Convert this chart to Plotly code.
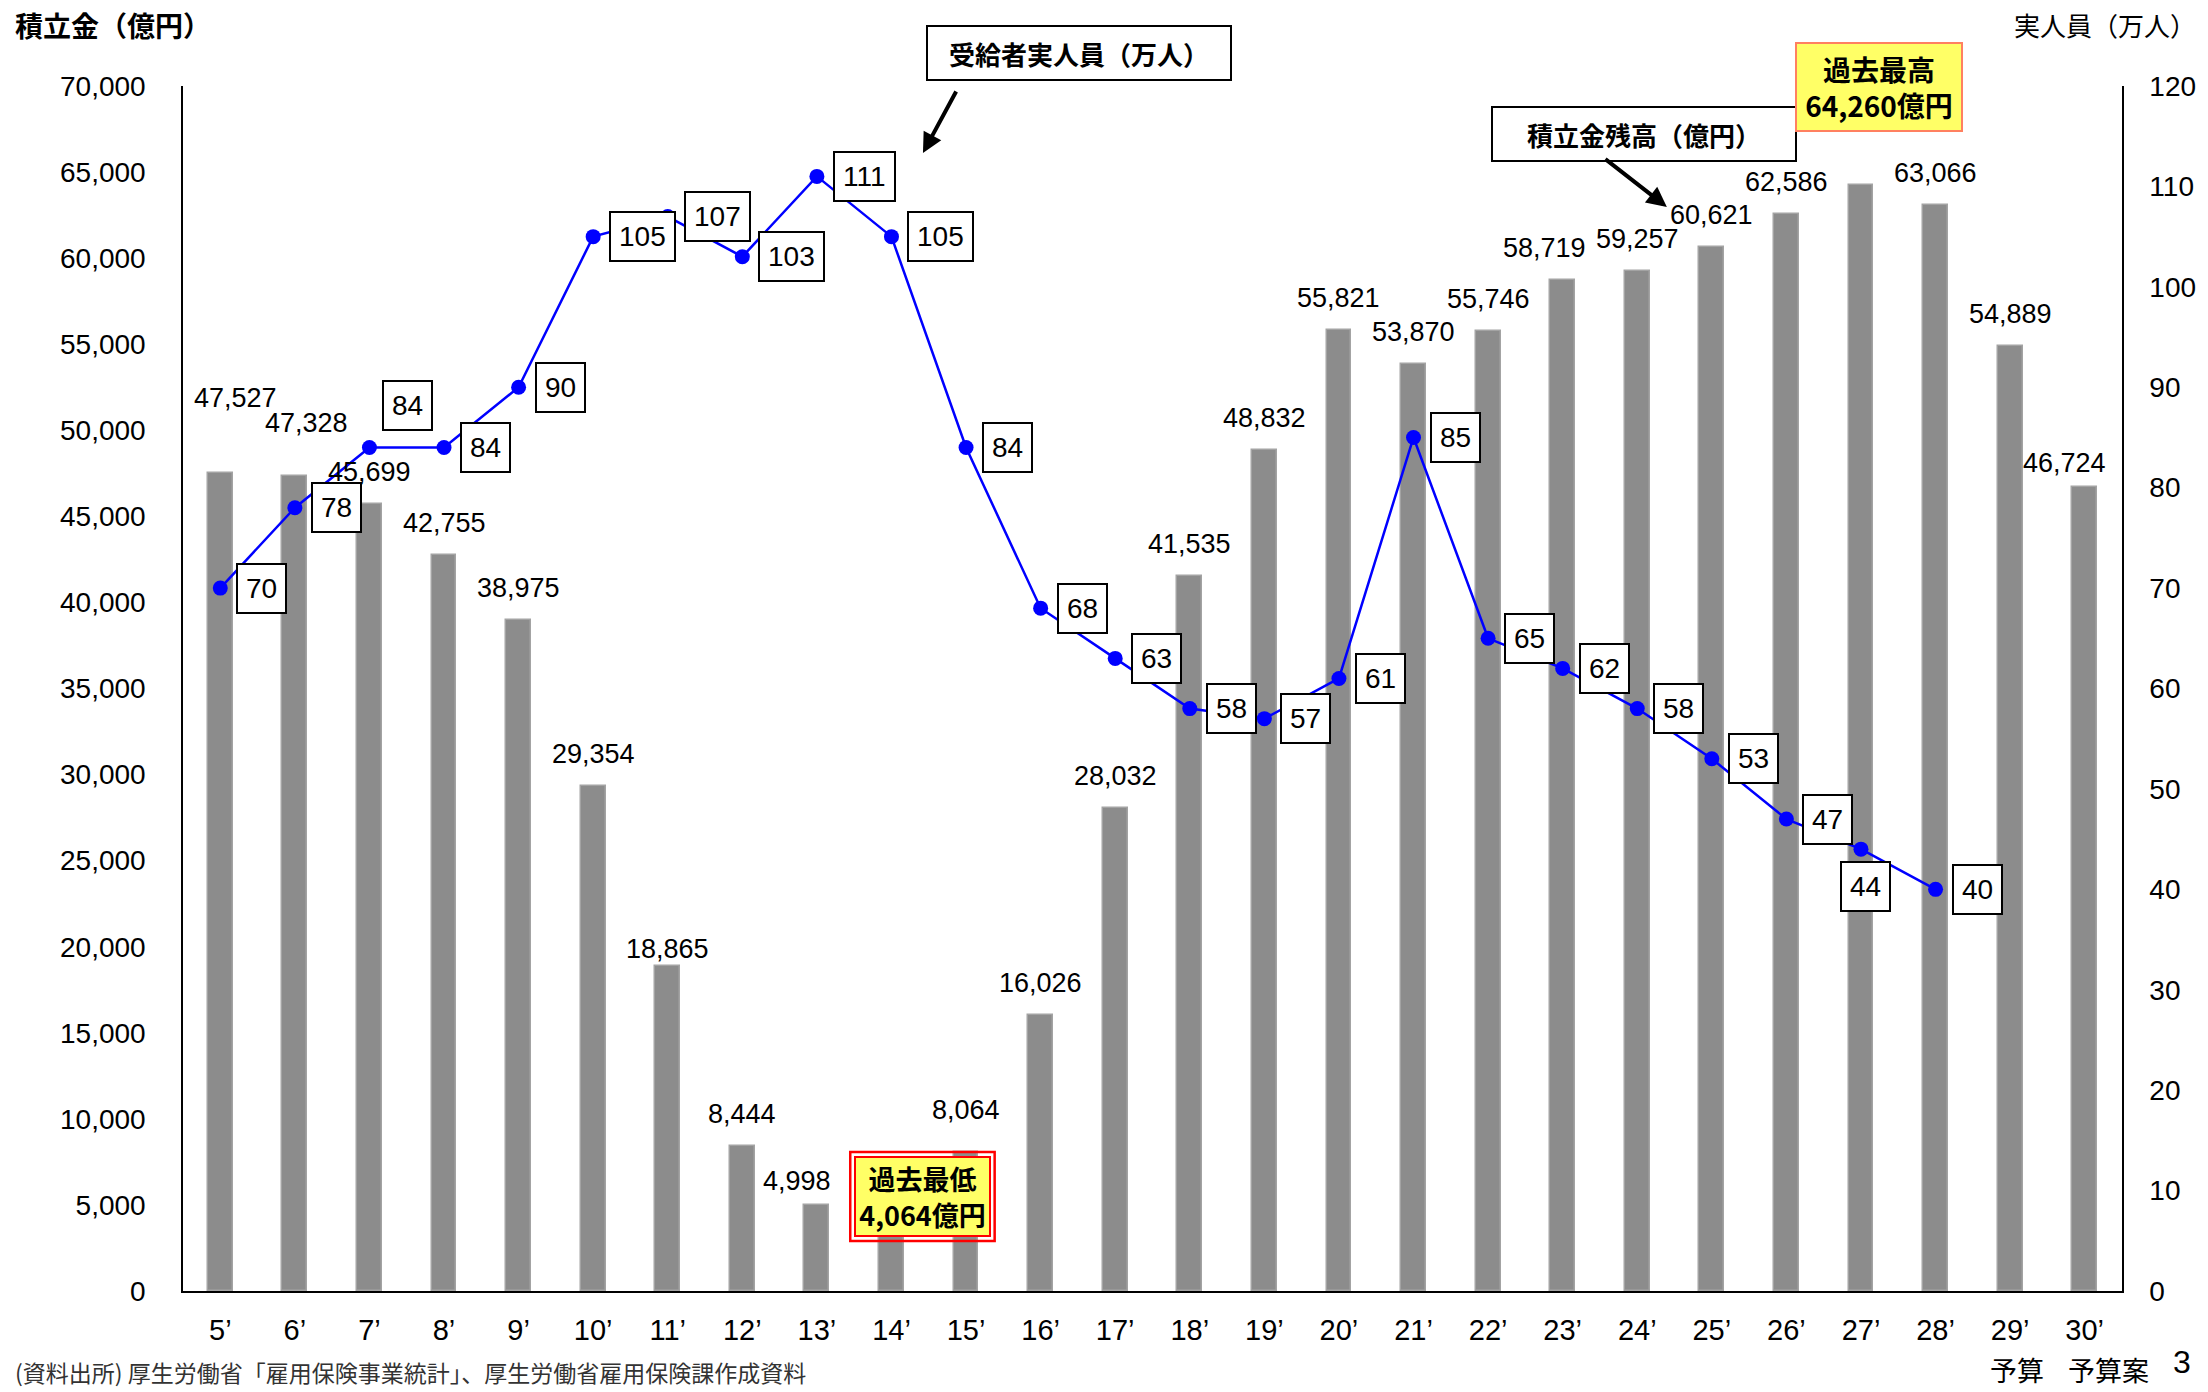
import plotly.graph_objects as go

# ---------------- data ----------------
years = ['5’', '6’', '7’', '8’', '9’', '10’', '11’', '12’', '13’', '14’', '15’', '16’', '17’',
         '18’', '19’', '20’', '21’', '22’', '23’', '24’', '25’', '26’', '27’', '28’', '29’', '30’']
fund_balance = [47527, 47328, 45699, 42755, 38975, 29354, 18865, 8444, 4998, 4064, 8064, 16026, 28032,
                41535, 48832, 55821, 53870, 55746, 58719, 59257, 60621, 62586, 64260, 63066, 54889, 46724]
recipients = [70, 78, 84, 84, 90, 105, 107, 103, 111, 105, 84, 68, 63, 58, 57, 61, 85, 65, 62, 58,
              53, 47, 44, 40]
recipient_years = years[:len(recipients)]

left_title = '積立金（億円）'
right_title = '実人員（万人）'
line_callout = '受給者実人員（万人）'
bar_callout = '積立金残高（億円）'
source_note = '(資料出所) 厚生労働省「雇用保険事業統計」、厚生労働省雇用保険課作成資料'
budget_notes = {'29’': '予算', '30’': '予算案'}
page_no = '3'

# ---------------- style ----------------
NUM_FONT = 'Liberation Sans, Arial, sans-serif'
JP_FONT = 'Noto Sans CJK JP, sans-serif'

W, H = 2208, 1392
ML, MR, MT, MB = 183, 78, 86, 101
PW, PH = W - ML - MR, H - MT - MB


def px_x(px):
    return (px - ML) / PW


def px_y(py):
    return (H - MB - py) / PH


fig = go.Figure()
fig.add_trace(go.Bar(
    x=years, y=fund_balance, width=0.333,
    marker=dict(color='#8c8c8c', line=dict(color='#a3a3a3', width=1.5)),
    yaxis='y', hoverinfo='skip', showlegend=False))
fig.add_trace(go.Scatter(
    x=recipient_years, y=recipients, yaxis='y2', mode='lines+markers',
    line=dict(color='#0000ff', width=2.5), marker=dict(color='#0000ff', size=15),
    hoverinfo='skip', showlegend=False))

annotations = []

# bar value labels (min and max are shown in callout boxes instead)
i_min = fund_balance.index(min(fund_balance))
i_max = fund_balance.index(max(fund_balance))
bar_label_offsets = {'5’': (15, 75), '6’': (12, 53), '11’': (0, 17), '13’': (-20, 24),
                     '15’': (0, 42), '23’': (-18, 32), '30’': (-20, 24)}
for i, (yr, v) in enumerate(zip(years, fund_balance)):
    if i in (i_min, i_max):
        continue
    dx, dy = bar_label_offsets.get(yr, (0, 32))
    annotations.append(dict(x=yr, y=v, xref='x', yref='y', text=f'{v:,}', showarrow=False,
                            xanchor='center', yanchor='middle', xshift=dx, yshift=dy,
                            font=dict(family=NUM_FONT, size=27, color='black')))

# boxed recipient labels
line_label_offsets = {'7’': ('left', 13, 42), '27’': ('center', 5, -37)}
for yr, v in zip(recipient_years, recipients):
    anchor, dx, dy = line_label_offsets.get(yr, ('left', 16, 0))
    annotations.append(dict(x=yr, y=v, xref='x', yref='y2', text=str(v), showarrow=False,
                            xanchor=anchor, yanchor='middle', xshift=dx, yshift=dy,
                            bgcolor='white', bordercolor='black', borderwidth=2, borderpad=8,
                            font=dict(family=NUM_FONT, size=28, color='black')))

# callout boxes
annotations.append(dict(x=px_x(1083), y=px_y(53), xref='paper', yref='paper',
                        text=f'<b>{line_callout}</b>', showarrow=False, xanchor='center', yanchor='middle',
                        width=300, height=50, borderpad=1, bgcolor='white', bordercolor='black',
                        borderwidth=2, font=dict(family=JP_FONT, size=26, color='black')))
annotations.append(dict(x=px_x(926), y=px_y(153), xref='paper', yref='paper', text='',
                        showarrow=True, ax=34, ay=-63, axref='pixel', ayref='pixel',
                        arrowhead=2, arrowsize=1, arrowwidth=4, arrowcolor='black'))

annotations.append(dict(x=px_x(1650), y=px_y(134), xref='paper', yref='paper',
                        text=f'<b>{bar_callout}</b>', showarrow=False, xanchor='center', yanchor='middle',
                        width=300, height=50, borderpad=1, bgcolor='white', bordercolor='black',
                        borderwidth=2, font=dict(family=JP_FONT, size=26, color='black')))
annotations.append(dict(x=px_x(1673), y=px_y(207), xref='paper', yref='paper', text='',
                        showarrow=True, ax=-63, ay=-49, axref='pixel', ayref='pixel',
                        arrowhead=2, arrowsize=1, arrowwidth=4, arrowcolor='black'))

max_text = f'<b>過去最高<br>{fund_balance[i_max]:,}億円</b>'
annotations.append(dict(x=px_x(1886), y=px_y(87), xref='paper', yref='paper', text=max_text,
                        showarrow=False, xanchor='center', yanchor='middle', width=162, height=84,
                        borderpad=1, bgcolor='#ffff66', bordercolor='#ff8060', borderwidth=2,
                        font=dict(family=JP_FONT, size=28, color='black')))

min_text = f'<b>過去最低<br>{fund_balance[i_min]:,}億円</b>'
annotations.append(dict(x=px_x(926), y=px_y(1196.5), xref='paper', yref='paper', text=min_text,
                        showarrow=False, xanchor='center', yanchor='middle', width=129, height=73,
                        borderpad=2, bgcolor='#ffff66', bordercolor='#ff0000', borderwidth=2,
                        font=dict(family=JP_FONT, size=27, color='black')))

# titles and notes
annotations.append(dict(x=px_x(12), y=px_y(25), xref='paper', yref='paper', text=f'<b>{left_title}</b>',
                        showarrow=False, xanchor='left', yanchor='middle',
                        font=dict(family=JP_FONT, size=28, color='black')))
annotations.append(dict(x=px_x(2206), y=px_y(25), xref='paper', yref='paper', text=right_title,
                        showarrow=False, xanchor='right', yanchor='middle',
                        font=dict(family=JP_FONT, size=26, color='black')))
annotations.append(dict(x=px_x(12), y=px_y(1391), xref='paper', yref='paper', text=source_note,
                        showarrow=False, xanchor='left', yanchor='bottom',
                        font=dict(family=JP_FONT, size=23, color='#333333')))
for yr, note in budget_notes.items():
    annotations.append(dict(x=yr, y=px_y(1391), xref='x', yref='paper', text=note, showarrow=False,
                            xanchor='center', yanchor='bottom', xshift=7 if len(note) == 2 else 24,
                            font=dict(family=JP_FONT, size=27, color='black')))
annotations.append(dict(x=px_x(2190), y=px_y(1362), xref='paper', yref='paper', text=page_no,
                        showarrow=False, xanchor='center', yanchor='middle',
                        font=dict(family=NUM_FONT, size=32, color='black')))

shapes = [dict(type='rect', xref='paper', yref='paper', layer='above',
               x0=px_x(853), x1=px_x(998), y0=px_y(1241), y1=px_y(1152),
               line=dict(color='#ff0000', width=2.5), fillcolor='rgba(0,0,0,0)')]

fig.update_layout(
    width=W, height=H, margin=dict(l=ML, r=MR, t=MT, b=MB, pad=0),
    paper_bgcolor='white', plot_bgcolor='white', bargap=0,
    font=dict(family=NUM_FONT, color='black'),
    xaxis=dict(type='category', range=[-0.5, len(years) - 0.5], showline=True, linecolor='black',
               linewidth=2, ticks='', showgrid=False, zeroline=False,
               tickfont=dict(family=NUM_FONT, size=29, color='black'), ticklabelstandoff=12),
    yaxis=dict(range=[0, 70000], dtick=5000, tickformat=',', showline=True, linecolor='black',
               linewidth=1.5, ticks='', showgrid=False, zeroline=False,
               tickfont=dict(family=NUM_FONT, size=28, color='black'), ticklabelstandoff=30),
    yaxis2=dict(range=[0, 120], dtick=10, overlaying='y', side='right', showline=True,
                linecolor='black', linewidth=1.5, ticks='', showgrid=False, zeroline=False,
                tickfont=dict(family=NUM_FONT, size=28, color='black'), ticklabelstandoff=20),
    annotations=annotations, shapes=shapes,
)

fig.write_html('out.html')
